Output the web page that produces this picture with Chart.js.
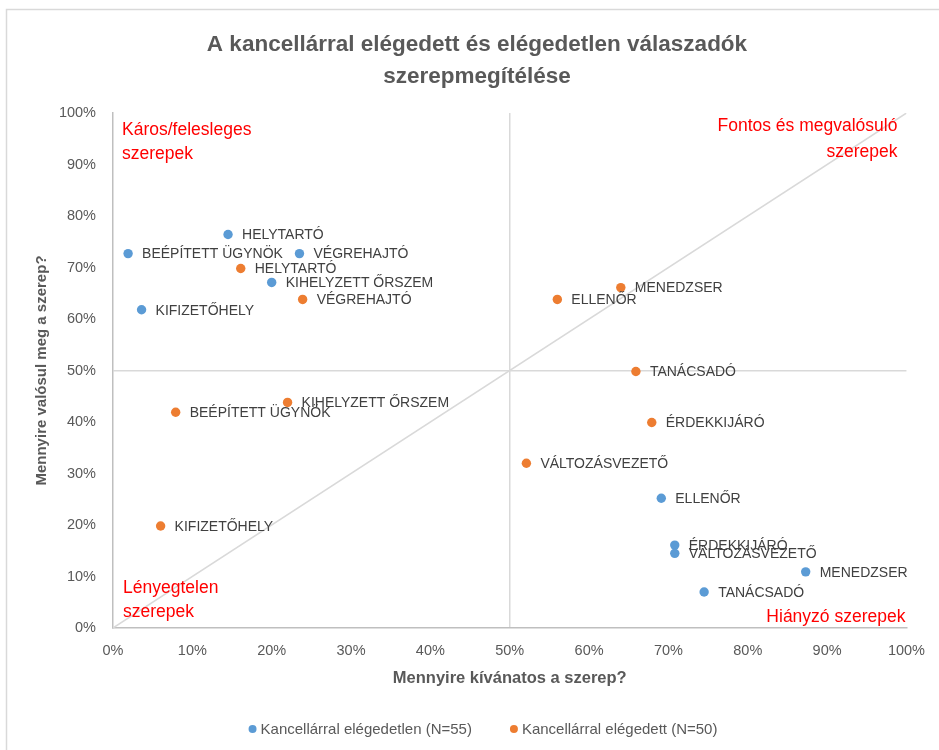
<!DOCTYPE html>
<html lang="hu">
<head>
<meta charset="utf-8">
<title>Szerepmegítélés</title>
<script src="https://cdn.jsdelivr.net/npm/chart.js@4.4.1/dist/chart.umd.min.js"></script>
<style>
    body { margin: 0; background: #fff; }
    canvas { display: block; }
</style>
</head>
<body>
<canvas id="role-chart" width="939" height="750"></canvas>
<script>
// szerepek (közös a két csoportnál)
const roles = ['HELYTARTÓ', 'BEÉPÍTETT ÜGYNÖK', 'VÉGREHAJTÓ', 'KIHELYZETT ŐRSZEM', 'KIFIZETŐHELY',
    'ELLENŐR', 'MENEDZSER', 'TANÁCSADÓ', 'ÉRDEKKIJÁRÓ', 'VÁLTOZÁSVEZETŐ'];

// kancellárral elégedetlen (N=55)
const unhappyX = [14.5, 1.9, 23.5, 20.0, 3.6, 69.1, 87.3, 74.5, 70.8, 70.8];
const unhappyY = [76.4, 72.7, 72.7, 67.1, 61.8, 25.2, 10.9, 7.0, 16.1, 14.5];

// kancellárral elégedett (N=50)
const happyX = [16.1, 7.9, 23.9, 22.0, 6.0, 56.0, 64.0, 65.9, 67.9, 52.1];
const happyY = [69.8, 41.9, 63.8, 43.8, 19.8, 63.8, 66.1, 49.8, 39.9, 32.0];

// átló 0% -> 100%
const diagonal = [0, 100];

const seriesNames = ['Kancellárral elégedetlen (N=55)', 'Kancellárral elégedett (N=50)'];
const titleLines = ['A kancellárral elégedett és elégedetlen válaszadók', 'szerepmegítélése'];
const quadrantTexts = {
    topLeft: ['Káros/felesleges', 'szerepek'],
    topRight: ['Fontos és megvalósuló', 'szerepek'],
    bottomLeft: ['Lényegtelen', 'szerepek'],
    bottomRight: ['Hiányzó szerepek']
};

const FONT = '"Liberation Sans", Arial, sans-serif';
const BLUE = '#5B9BD5';
const ORANGE = '#ED7D31';
const GREY = '#595959';

function toPoints(xs, ys) {
    return xs.map((x, i) => ({ x: x, y: ys[i] }));
}

// keret, cím, kvadráns feliratok, pont címkék, jelmagyarázat
const decorations = {
    id: 'decorations',
    beforeDraw(chart) {
        const ctx = chart.ctx;
        ctx.save();
        ctx.fillStyle = '#fff';
        ctx.fillRect(0, 0, chart.width, chart.height);
        ctx.strokeStyle = '#d9d9d9';
        ctx.lineWidth = 1.5;
        ctx.strokeRect(6.5, 9.5, chart.width + 20, chart.height + 20);
        ctx.restore();
    },
    afterDatasetsDraw(chart) {
        const ctx = chart.ctx;
        const area = chart.chartArea;
        ctx.save();

        // pontok feliratai
        ctx.font = '14px ' + FONT;
        ctx.fillStyle = '#404040';
        ctx.textAlign = 'left';
        ctx.textBaseline = 'middle';
        [0, 1].forEach(index => {
            chart.getDatasetMeta(index).data.forEach((point, i) => {
                ctx.fillText(roles[i], point.x + 14, point.y + 1);
            });
        });

        // kvadránsok
        ctx.font = '17.5px ' + FONT;
        ctx.fillStyle = '#FF0000';
        ctx.textAlign = 'left';
        quadrantTexts.topLeft.forEach((t, i) => ctx.fillText(t, area.left + 9, area.top + 17 + i * 24));
        quadrantTexts.bottomLeft.forEach((t, i) => ctx.fillText(t, area.left + 10, area.bottom - 40 + i * 24));
        ctx.textAlign = 'right';
        quadrantTexts.topRight.forEach((t, i) => ctx.fillText(t, area.right - 9, area.top + 13 + i * 26));
        quadrantTexts.bottomRight.forEach((t, i) => ctx.fillText(t, area.right - 1, area.bottom - 11 + i * 24));

        // cím
        ctx.font = 'bold 22.5px ' + FONT;
        ctx.fillStyle = GREY;
        ctx.textAlign = 'center';
        titleLines.forEach((t, i) => ctx.fillText(t, 477, 45 + i * 32));

        // jelmagyarázat
        ctx.font = '15px ' + FONT;
        ctx.textAlign = 'left';
        const colors = [BLUE, ORANGE];
        const gap = 38;
        const widths = seriesNames.map(n => ctx.measureText(n).width + 12);
        let x = 483 - (widths[0] + widths[1] + gap) / 2;
        seriesNames.forEach((name, i) => {
            ctx.fillStyle = colors[i];
            ctx.beginPath();
            ctx.arc(x + 4, 729, 4, 0, Math.PI * 2);
            ctx.fill();
            ctx.fillStyle = GREY;
            ctx.fillText(name, x + 12, 730);
            x += widths[i] + gap;
        });

        ctx.restore();
    }
};

const ctx = document.getElementById('role-chart').getContext('2d');

new Chart(ctx, {
    type: 'scatter',
    data: {
        datasets: [
            {
                label: seriesNames[0],
                data: toPoints(unhappyX, unhappyY),
                backgroundColor: BLUE,
                borderWidth: 0,
                pointRadius: 4.7
            },
            {
                label: seriesNames[1],
                data: toPoints(happyX, happyY),
                backgroundColor: ORANGE,
                borderWidth: 0,
                pointRadius: 4.7
            },
            {
                type: 'line',
                label: 'átló',
                data: toPoints(diagonal, diagonal),
                borderColor: '#d9d9d9',
                borderWidth: 1.5,
                pointRadius: 0,
                order: 10
            }
        ]
    },
    options: {
        responsive: false,
        animation: false,
        layout: { padding: { top: 113, right: 31, bottom: 0, left: 0 } },
        plugins: {
            legend: { display: false },
            tooltip: { enabled: false }
        },
        scales: {
            x: {
                type: 'linear',
                min: 0,
                max: 100,
                ticks: {
                    stepSize: 10,
                    padding: 14,
                    color: GREY,
                    font: { family: FONT, size: 14.5 },
                    callback: v => v + '%'
                },
                grid: {
                    drawTicks: false,
                    color: c => c.tick && c.tick.value === 50 ? '#d9d9d9' : 'transparent',
                    lineWidth: 1.5
                },
                border: { color: '#bfbfbf', width: 1.5 },
                title: {
                    display: true,
                    text: 'Mennyire kívánatos a szerep?',
                    color: GREY,
                    font: { family: FONT, size: 16.5, weight: 'bold' },
                    padding: { top: 0, bottom: 62 }
                },
                afterFit: scale => { scale.height = 122; }
            },
            y: {
                type: 'linear',
                min: 0,
                max: 100,
                ticks: {
                    stepSize: 10,
                    padding: 17,
                    color: GREY,
                    font: { family: FONT, size: 14.5 },
                    callback: v => v + '%'
                },
                grid: {
                    drawTicks: false,
                    color: c => c.tick && c.tick.value === 50 ? '#d9d9d9' : 'transparent',
                    lineWidth: 1.5
                },
                border: { color: '#bfbfbf', width: 1.5 },
                title: {
                    display: true,
                    text: 'Mennyire valósul meg a szerep?',
                    color: GREY,
                    font: { family: FONT, size: 15, weight: 'bold' },
                    padding: { top: 33, bottom: 0 }
                },
                afterFit: scale => { scale.width = 113; }
            }
        }
    },
    plugins: [decorations]
});
</script>
</body>
</html>
